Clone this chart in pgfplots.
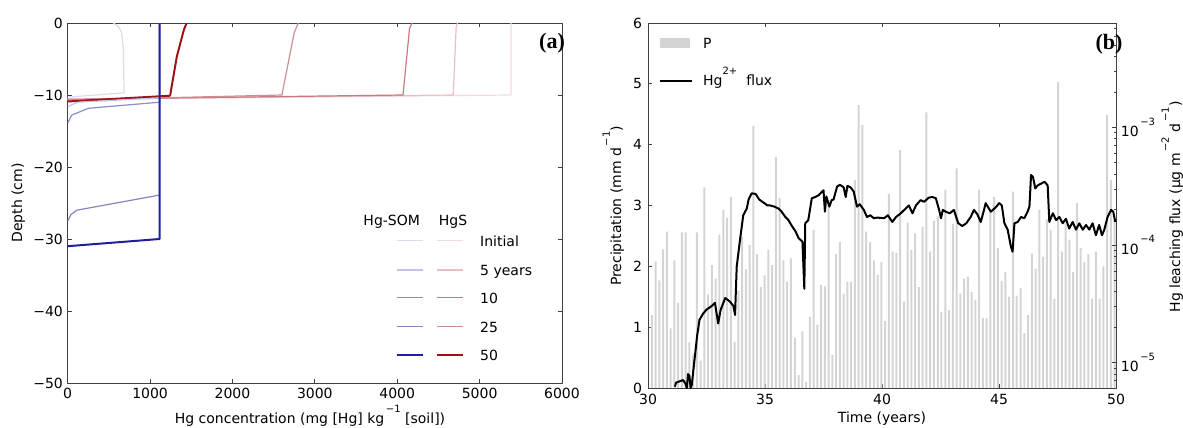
\documentclass[border=0pt]{standalone}
\usepackage{fontspec}
\setmainfont{DejaVu Sans}
\newfontfamily\tagfont{Liberation Serif}
\usepackage{pgfplots}
\pgfplotsset{compat=1.18}
\usepackage{pgfplotstable}

\definecolor{bInit}{rgb}{0.86,0.86,0.95}
\definecolor{bFive}{rgb}{0.76,0.76,0.92}
\definecolor{bTen}{rgb}{0.55,0.55,0.82}
\definecolor{bTwentyFive}{rgb}{0.52,0.52,0.74}
\definecolor{bFifty}{rgb}{0.12,0.12,0.62}
\definecolor{rInit}{rgb}{0.95,0.86,0.88}
\definecolor{rFive}{rgb}{0.91,0.75,0.77}
\definecolor{rTen}{rgb}{0.80,0.47,0.49}
\definecolor{rTwentyFive}{rgb}{0.80,0.56,0.58}
\definecolor{rFifty}{rgb}{0.62,0.08,0.08}
\definecolor{barg}{rgb}{0.83,0.83,0.83}
\definecolor{spine}{rgb}{0.25,0.25,0.25}

\newcommand\sups[1]{\raisebox{0.8em}{\fontsize{10}{10}\selectfont #1}}

% precipitation, one bar every ~0.16 yr
\pgfplotstableread{
t P
30.000 1.30
30.161 1.20
30.322 2.08
30.482 1.77
30.643 2.28
30.804 2.57
30.965 0.98
31.126 2.10
31.286 1.40
31.447 2.56
31.608 2.56
31.769 0.75
31.930 0.55
32.090 2.56
32.251 0.45
32.412 3.30
32.573 1.54
32.734 2.02
32.894 1.80
33.055 2.52
33.216 2.93
33.377 2.80
33.538 3.14
33.698 0.76
33.859 1.60
34.020 2.49
34.181 1.95
34.342 2.35
34.502 4.31
34.663 2.20
34.824 1.66
34.985 1.85
35.146 2.27
35.306 2.02
35.467 3.80
35.628 3.12
35.789 2.10
35.950 1.75
36.110 2.13
36.271 0.82
36.432 0.21
36.593 0.93
36.754 0.10
36.914 1.17
37.075 2.60
37.236 1.04
37.397 1.70
37.558 1.67
37.718 3.09
37.879 0.54
38.040 2.20
38.201 2.40
38.362 1.55
38.522 1.75
38.683 1.75
38.844 3.42
39.005 4.65
39.166 4.32
39.326 2.57
39.487 2.40
39.648 2.10
39.809 1.86
39.970 2.07
40.130 1.10
40.291 3.19
40.452 2.24
40.613 2.22
40.774 3.91
40.934 1.42
41.095 2.72
41.256 2.27
41.417 2.54
41.578 1.66
41.738 2.65
41.899 4.53
42.060 2.24
42.221 2.75
42.382 2.82
42.542 1.25
42.703 3.26
42.864 1.28
43.025 2.70
43.186 3.61
43.346 1.55
43.507 1.80
43.668 1.83
43.829 1.58
43.990 1.45
44.150 3.26
44.311 1.15
44.472 1.15
44.633 2.90
44.794 3.14
44.954 2.30
45.115 1.76
45.276 1.91
45.437 1.50
45.598 3.23
45.758 1.52
45.919 1.64
46.080 0.90
46.241 1.20
46.402 2.21
46.562 1.96
46.723 2.93
46.884 2.16
47.045 2.77
47.206 2.60
47.366 1.47
47.527 5.03
47.688 2.24
47.849 2.71
48.010 2.44
48.170 1.91
48.331 3.04
48.492 2.30
48.653 2.07
48.814 2.20
48.974 1.47
49.135 2.24
49.296 1.47
49.457 2.00
49.618 4.49
49.778 3.42
49.939 2.80
}\precip

% Hg2+ leaching flux (ug m-2 d-1)
\pgfplotstableread{
t flux
31.15 6.22e-6
31.20 6.75e-6
31.35 6.92e-6
31.50 7.09e-6
31.60 6.60e-6
31.66 6.07e-6
31.71 7.98e-6
31.77 7.70e-6
31.82 6.07e-6
31.87 6.44e-6
32.10 1.69e-5
32.20 2.31e-5
32.35 2.60e-5
32.50 2.82e-5
32.70 3.00e-5
32.86 3.22e-5
33.00 2.15e-5
33.10 2.79e-5
33.30 3.54e-5
33.50 3.30e-5
33.65 3.03e-5
33.72 2.54e-5
33.79 6.51e-5
33.93 1.10e-4
34.07 1.79e-4
34.22 2.04e-4
34.30 2.44e-4
34.43 2.75e-4
34.60 2.72e-4
34.75 2.44e-4
34.93 2.30e-4
35.00 2.25e-4
35.10 2.17e-4
35.22 2.17e-4
35.40 2.12e-4
35.58 2.04e-4
35.71 1.92e-4
35.87 1.73e-4
36.00 1.63e-4
36.15 1.45e-4
36.30 1.31e-4
36.44 1.14e-4
36.60 1.07e-4
36.68 4.24e-5
36.72 1.53e-4
36.85 1.63e-4
37.00 2.50e-4
37.15 2.56e-4
37.30 2.66e-4
37.44 2.85e-4
37.50 2.92e-4
37.56 1.92e-4
37.62 2.59e-4
37.75 2.12e-4
37.85 2.41e-4
37.93 2.44e-4
38.08 3.14e-4
38.20 3.25e-4
38.36 3.10e-4
38.45 2.56e-4
38.52 3.18e-4
38.65 3.10e-4
38.79 2.85e-4
38.93 2.12e-4
39.05 2.22e-4
39.22 1.99e-4
39.36 1.73e-4
39.50 1.79e-4
39.65 1.69e-4
39.80 1.71e-4
40.09 1.69e-4
40.25 1.79e-4
40.44 1.57e-4
40.60 1.73e-4
40.80 1.86e-4
41.01 2.04e-4
41.15 2.17e-4
41.30 1.86e-4
41.45 2.17e-4
41.65 2.41e-4
41.80 2.33e-4
42.00 2.53e-4
42.15 2.56e-4
42.30 2.50e-4
42.44 1.99e-4
42.52 1.69e-4
42.60 1.99e-4
42.72 1.92e-4
42.90 1.86e-4
43.07 1.99e-4
43.26 1.53e-4
43.43 1.45e-4
43.60 1.53e-4
43.79 1.73e-4
43.93 1.99e-4
44.07 1.83e-4
44.22 1.57e-4
44.36 1.99e-4
44.43 2.27e-4
44.65 1.92e-4
44.86 2.09e-4
45.01 2.27e-4
45.12 2.17e-4
45.23 1.53e-4
45.37 1.35e-4
45.51 9.64e-5
45.58 8.76e-5
45.66 1.53e-4
45.80 1.57e-4
45.94 1.73e-4
46.08 1.69e-4
46.22 1.92e-4
46.30 2.12e-4
46.37 3.94e-4
46.45 3.80e-4
46.55 3.03e-4
46.65 3.21e-4
46.80 3.33e-4
46.95 3.45e-4
47.08 3.21e-4
47.15 1.57e-4
47.30 1.86e-4
47.44 1.63e-4
47.58 1.73e-4
47.72 1.53e-4
47.86 1.67e-4
48.00 1.38e-4
48.15 1.57e-4
48.29 1.35e-4
48.43 1.53e-4
48.58 1.35e-4
48.72 1.48e-4
48.86 1.35e-4
49.00 1.53e-4
49.14 1.21e-4
49.28 1.48e-4
49.40 1.21e-4
49.50 1.35e-4
49.64 1.73e-4
49.79 1.99e-4
49.88 1.92e-4
49.97 1.57e-4
}\hgflux

\pgfplotsset{
  mpl/.style={
    scale only axis, anchor=south west,
    axis line style={spine, line width=0.9pt},
    every tick/.style={spine, line width=0.8pt},
    major tick length=4pt, minor tick length=2pt,
    tick align=inside,
    tick label style={font=\fontsize{14}{16}\selectfont},
    /pgf/number format/assume math mode=true,
  },
}

\begin{document}
\fontsize{14}{16.8}\selectfont
\begin{tikzpicture}[x=1pt,y=1pt]
\path[use as bounding box] (0,0) rectangle (1183,428);

% ---------- (a) depth profiles
\begin{axis}[mpl,
  at={(67.7pt,45pt)}, width=494.3pt, height=360pt,
  xmin=0, xmax=6000, ymin=-50, ymax=0,
  xtick={0,1000,2000,3000,4000,5000,6000},
  xticklabels={0,1000,2000,3000,4000,5000,6000},
  ytick={-50,-40,-30,-20,-10,0},
  yticklabels={−50,−40,−30,−20,−10,0},
  line join=round,
]
% HgS
\addplot[rInit, line width=1.2pt] coordinates {(5380,0)(5380,-10)(0,-10.6)};
\addplot[rFive, line width=1.2pt] coordinates {(4730,0)(4715,-0.6)(4680,-10)(0,-10.6)};
\addplot[rTen, line width=1.2pt] coordinates {(4180,0)(4150,-0.7)(4070,-10)(0,-10.6)};
\addplot[rTwentyFive, line width=1.2pt] coordinates {(2800,0)(2750,-1.3)(2600,-10)(0,-10.7)};
\addplot[rFifty, line width=2pt] coordinates {(1446,0)(1425,-0.5)(1404,-1.2)(1324,-4.7)(1243,-10.1)(0,-10.9)};
% Hg-SOM
\addplot[bInit, line width=1.2pt] coordinates {(554,0)(616,-0.5)(656,-1.4)(676,-3.7)(684,-9.7)(0,-10.3)};
\addplot[bFive, line width=1.2pt] coordinates {(1115,0)(1115,-10.4)(120,-11.0)(0,-11.6)};
\addplot[bTen, line width=1.2pt] coordinates {(1115,0)(1115,-11)(250,-11.85)(48,-12.8)(0,-13.9)};
\addplot[bTwentyFive, line width=1.2pt] coordinates {(1115,0)(1115,-23.9)(110,-26)(40,-26.6)(0,-27.5)};
\addplot[bFifty, line width=2pt] coordinates {(1115,0)(1115,-30)(0,-31)};
\end{axis}

% ---------- (b) precipitation bars
\begin{axis}[mpl,
  at={(648pt,40pt)}, width=468pt, height=365pt,
  xmin=30, xmax=50, ymin=0, ymax=6,
  xtick={30,35,40,45,50}, xticklabels={30,35,40,45,50},
  xticklabel style={yshift=-1.5pt},
  ytick={0,1,2,3,4,5,6}, yticklabels={0,1,2,3,4,5,6},
  yticklabel style={xshift=-1pt},
  ytick pos=left,
]
\addplot[ybar, bar width=2pt, fill=barg, draw=none] table[x=t, y=P] {\precip};
\end{axis}

% ---------- (b) Hg flux, log axis on the right
\begin{axis}[mpl,
  at={(648pt,40pt)}, width=468pt, height=365pt,
  xmin=30, xmax=50, ymode=log, ymin=6.07e-6, ymax=7.74e-3,
  hide x axis,
  ytick pos=right, yticklabel pos=right,
  ytick={1e-5,1e-4,1e-3},
  yticklabels={10\sups{\,−5}, 10\sups{\,−4}, 10\sups{\,−3}},
  minor ytick={7e-6,8e-6,9e-6,2e-5,3e-5,4e-5,5e-5,6e-5,7e-5,8e-5,9e-5,2e-4,3e-4,4e-4,5e-4,6e-4,7e-4,8e-4,9e-4,2e-3,3e-3,4e-3,5e-3,6e-3,7e-3},
]
\addplot[black, line width=2pt, line join=round] table[x=t, y=flux] {\hgflux};
\end{axis}

% axis labels
\node[rotate=90, anchor=base] at (22,225) {Depth (cm)};
\node[anchor=base] at (310,4) {Hg concentration (mg [Hg] kg\sups{\,−1} [soil])};
\node[anchor=base] at (882,5) {Time (years)};
\node[rotate=90, anchor=base] at (621,222) {Precipitation (mm d\sups{\,−1})};
\node[rotate=90, anchor=base] at (1180,221) {Hg leaching flux (µg m\sups{\,−2} d\sups{\,−1})};

% panel tags
\node at (552,385) {\tagfont\bfseries\fontsize{22}{24}\selectfont (a)};
\node at (1109,384) {\tagfont\bfseries\fontsize{22}{24}\selectfont (b)};

% legend (a)
\node[anchor=base] at (391.7,202) {Hg-SOM};
\node[anchor=base] at (453,202) {HgS};
\draw[bInit, line width=1.2pt] (396.7,187.3) -- (423.3,187.3);
\draw[rInit, line width=1.2pt] (436.7,187.3) -- (463.3,187.3);
\node[anchor=base west, inner sep=0pt] at (480,181.3) {Initial};
\draw[bFive, line width=1.2pt] (396.7,158) -- (423.3,158);
\draw[rFive, line width=1.2pt] (436.7,158) -- (463.3,158);
\node[anchor=base west, inner sep=0pt] at (480,152) {5 years};
\draw[bTen, line width=1.2pt] (396.7,130.3) -- (423.3,130.3);
\draw[rTen, line width=1.2pt] (436.7,130.3) -- (463.3,130.3);
\node[anchor=base west, inner sep=0pt] at (480,124.3) {10};
\draw[bTwentyFive, line width=1.2pt] (396.7,101.3) -- (423.3,101.3);
\draw[rTwentyFive, line width=1.2pt] (436.7,101.3) -- (463.3,101.3);
\node[anchor=base west, inner sep=0pt] at (480,95.3) {25};
\draw[bFifty, line width=2pt] (396.7,73) -- (423.3,73);
\draw[rFifty, line width=2pt] (436.7,73) -- (463.3,73);
\node[anchor=base west, inner sep=0pt] at (480,67) {50};

% legend (b)
\fill[barg] (660,380) rectangle (690,390);
\node[anchor=base west, inner sep=0pt] at (703,379.7) {P};
\draw[black, line width=2pt] (660,347.3) -- (692,347.3);
\node[anchor=base west, inner sep=0pt] at (703,342) {Hg\sups{2+}\ \ flux};
\end{tikzpicture}
\end{document}
